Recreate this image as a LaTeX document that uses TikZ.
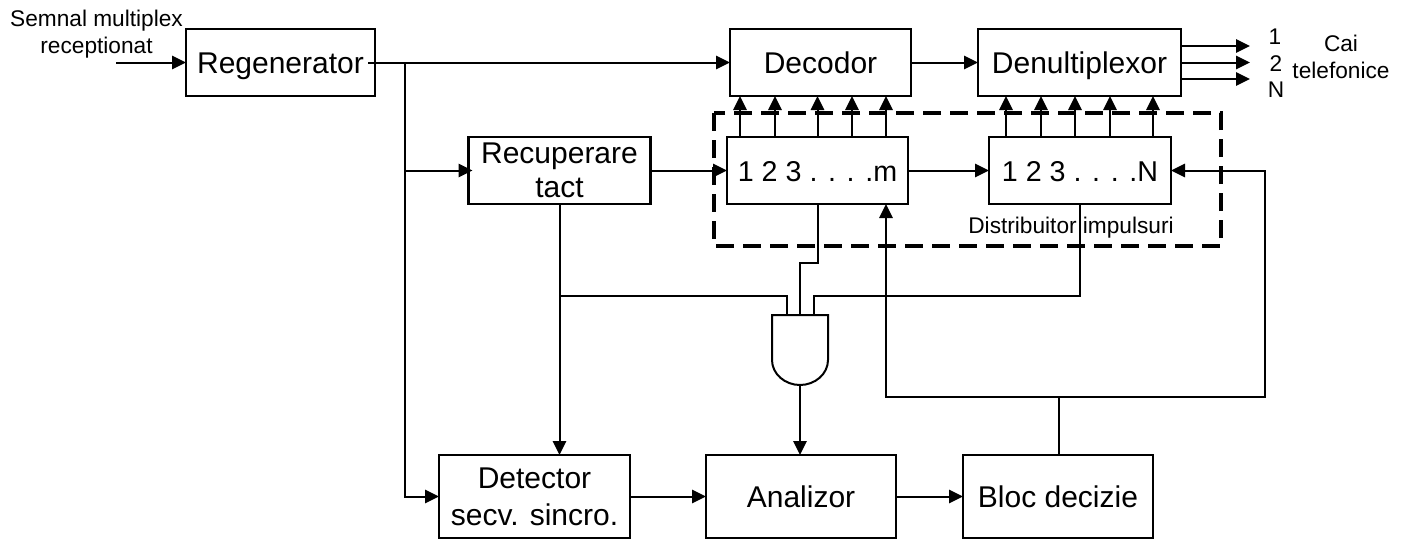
\documentclass[tikz,border=0pt]{standalone}
\usepackage{fontspec}
\setmainfont{Liberation Sans}
\usetikzlibrary{arrows.meta}

\tikzset{
    blockbox/.style={draw, line width=1.7pt, inner sep=0pt, outer sep=0pt, minimum height=50.25pt, align=center, font=\fontsize{22.5}{25.5}\selectfont},
    oneline/.style={text height=16pt, text depth=0pt},
    lowbox/.style={blockbox, minimum height=62.25pt},
    countbox/.style={blockbox, oneline, font=\fontsize{21.5}{25.5}\selectfont},
    smalllabel/.style={inner sep=0pt, align=center, font=\fontsize{17}{20}\selectfont},
    flow/.style={line width=1.5pt, -{Triangle[length=10.5pt,width=10pt]}},
    wire/.style={line width=1.5pt},
    distbox/.style={line width=2.4pt, dash pattern=on 13.5pt off 6.75pt}
}

\begin{document}
\begin{tikzpicture}[x=0.75pt,y=-0.75pt]
    \useasboundingbox (0,0) rectangle (1403,540);

    % Blocks on top
    \node[blockbox, oneline, minimum width=141.75pt] (regen) at (280.5,62.5) {Regenerator};
    \node[blockbox, oneline, minimum width=135.75pt] (dec) at (820.5,62.5) {Decodor};
    \node[blockbox, oneline, minimum width=152.25pt] (dem) at (1079.5,62.5) {Denultiplexor};

    % Distributor
    \draw[distbox] (714,113) rectangle (1221,246);
    \node[blockbox, minimum width=136.5pt] (rec) at (559.5,170.5) {Recuperare\\tact};
    \node[countbox, minimum width=135.75pt] (cntm) at (817.5,170.5) {1 2 3 . . . .m};
    \node[countbox, minimum width=136.5pt] (cntn) at (1080,170.5) {1 2 3 . . . .N};
    \node[smalllabel] (dist) at (1071,228) {Distribuitor impulsuri};

    % Blocks on bottom
    \node[lowbox, minimum width=143.25pt] (det) at (534.5,496.5) {Detector\\[2.25pt]secv. sincro.};
    \node[lowbox, oneline, minimum width=142.5pt] (ana) at (801,496.5) {Analizor};
    \node[lowbox, oneline, minimum width=142.5pt] (bloc) at (1058,496.5) {Bloc decizie};

    % Labels
    \node[smalllabel] (semnal) at (96.5,34) {Semnal multiplex\\receptionat};
    \node[smalllabel] (nr1) at (1275,37) {1};
    \node[smalllabel] (nr2) at (1276,64) {2};
    \node[smalllabel] (nr3) at (1276,90) {N};
    \node[smalllabel] (cai) at (1341,57) {Cai\\telefonice};

    % AND gate
    \node[inner sep=0pt, outer sep=0pt, minimum width=42pt, minimum height=52.5pt] (gate) at (800,350) {};
    \draw[line width=1.5pt] (gate.north west) -- (gate.north east) -- (828,360)
        .. controls (828,374) and (815,385) .. (gate.south)
        .. controls (785,385) and (772,374) .. (772,360) -- cycle;

    % Free ends and corners
    \coordinate (in) at (116,62.5);
    \coordinate (jreg) at (405,62.5);
    \coordinate (jrec) at (405,170.5);
    \coordinate (jtact) at (559.5,296);
    \coordinate (jbloc) at (1058.5,397);

    % Main path
    \draw[flow] (in) -- (regen.west);
    \draw[flow, shorten <=-5pt] (regen.east) -- (dec.west);
    \draw[flow] (dec.east) -- (dem.west);
    \foreach \y/\n in {46/out1, 62.5/out2, 79/out3} {
        \coordinate (\n) at (1250,\y);
        \draw[flow] (dem.east |- \n) -- (\n);
    }

    % Clock and counters
    \draw[wire] (jreg) -- (jrec);
    \draw[flow, shorten >=-3pt] (jrec) -- (rec.west);
    \draw[flow] (jrec) |- (det.west);
    \draw[flow] (rec.east) -- (cntm.west);
    \draw[flow] (cntm.east) -- (cntn.west);
    \foreach \x in {740, 775, 817.5, 852, 886}
        \draw[flow] (\x,0 |- cntm.north) -- (\x,0 |- dec.south);
    \foreach \x in {1006, 1041, 1075, 1110, 1153}
        \draw[flow] (\x,0 |- cntn.north) -- (\x,0 |- dem.south);

    % Gate inputs
    \draw[flow] (559.5,0 |- rec.south) -- (559.5,0 |- det.north);
    \draw[wire] (jtact) -| (787,0 |- gate.north);
    \draw[wire] (cntm.south) -- (817.5,263) -| (gate.north);
    \draw[wire] (cntn.south) -- (1080,296) -| (814,0 |- gate.north);
    \draw[flow] (gate.south) -- (800,0 |- ana.north);

    % Bottom row and feedback
    \draw[flow] (det.east) -- (ana.west);
    \draw[flow] (ana.east) -- (bloc.west);
    \draw[wire] (1058.5,0 |- bloc.north) -- (jbloc);
    \draw[flow] (jbloc) -| (886,0 |- cntm.south);
    \draw[flow] (jbloc) -| (1265,170.5) -- (cntn.east);
\end{tikzpicture}
\end{document}
